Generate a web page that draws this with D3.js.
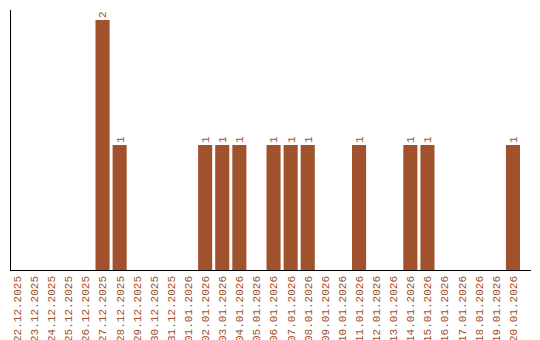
<!DOCTYPE html>
<html>
<head>
<meta charset="utf-8">
<script src="https://cdn.jsdelivr.net/npm/d3@7"></script>
<style>
  body { margin: 0; background: #fff; }
  text { font-family: "Liberation Mono", "DejaVu Sans Mono", monospace; font-size: 11px; fill: #a0522d; }
</style>
</head>
<body>
<svg id="chart" width="540" height="340"></svg>
<script>
//data
const dates = ['22.12.2025', '23.12.2025', '24.12.2025', '25.12.2025', '26.12.2025', '27.12.2025',
	'28.12.2025', '29.12.2025', '30.12.2025', '31.12.2025', '01.01.2026', '02.01.2026', '03.01.2026',
	'04.01.2026', '05.01.2026', '06.01.2026', '07.01.2026', '08.01.2026', '09.01.2026', '10.01.2026',
	'11.01.2026', '12.01.2026', '13.01.2026', '14.01.2026', '15.01.2026', '16.01.2026', '17.01.2026',
	'18.01.2026', '19.01.2026', '20.01.2026'];
const counts = [0, 0, 0, 0, 0, 2, 1, 0, 0, 0, 0, 1, 1, 1, 0, 1, 1, 1, 0, 0, 1, 0, 0, 1, 1, 0, 0, 0, 0, 1];

const barColor = '#a0522d';
const padLeft = 10, padTop = 10, axisBottom = 270;

var data = dates.map((d, i) => ({date: d, count: counts[i]}));

var svg = d3.select('#chart');

//scales
var x = d3.scaleBand()
	.domain(dates)
	.range([padLeft, padLeft + 17 * dates.length])
	.paddingInner(3 / 17)
	.paddingOuter(0);

var y = d3.scaleLinear()
	.domain([0, d3.max(counts)])
	.range([axisBottom, 20]);

//bars
svg.selectAll('.bar')
	.data(data.filter(d => d.count > 0))
	.enter()
	.append('rect')
		.classed('bar', true)
		.attr('x', d => x(d.date))
		.attr('y', d => y(d.count))
		.attr('width', x.bandwidth())
		.attr('height', d => y(0) - y(d.count))
		.attr('fill', barColor);

//value labels
svg.selectAll('.val')
	.data(data.filter(d => d.count > 0))
	.enter()
	.append('text')
		.classed('val', true)
		.attr('transform', d => `translate(${x(d.date) + x.bandwidth() / 2}, ${y(d.count) - 2}) rotate(-90)`)
		.attr('dy', '0.35em')
		.text(d => d.count);

//x tick labels
svg.selectAll('.tick-label')
	.data(dates)
	.enter()
	.append('text')
		.classed('tick-label', true)
		.attr('transform', d => `translate(${x(d) + x.bandwidth() / 2}, ${axisBottom + 6}) rotate(-90)`)
		.attr('text-anchor', 'end')
		.attr('dy', '0.35em')
		.text(d => d);

//axis lines
svg.append('line')
	.attr('x1', padLeft + 0.5).attr('x2', padLeft + 0.5)
	.attr('y1', padTop).attr('y2', axisBottom + 0.5)
	.attr('stroke', '#000');
svg.append('line')
	.attr('x1', padLeft).attr('x2', 531)
	.attr('y1', axisBottom + 0.5).attr('y2', axisBottom + 0.5)
	.attr('stroke', '#000');
</script>
</body>
</html>
